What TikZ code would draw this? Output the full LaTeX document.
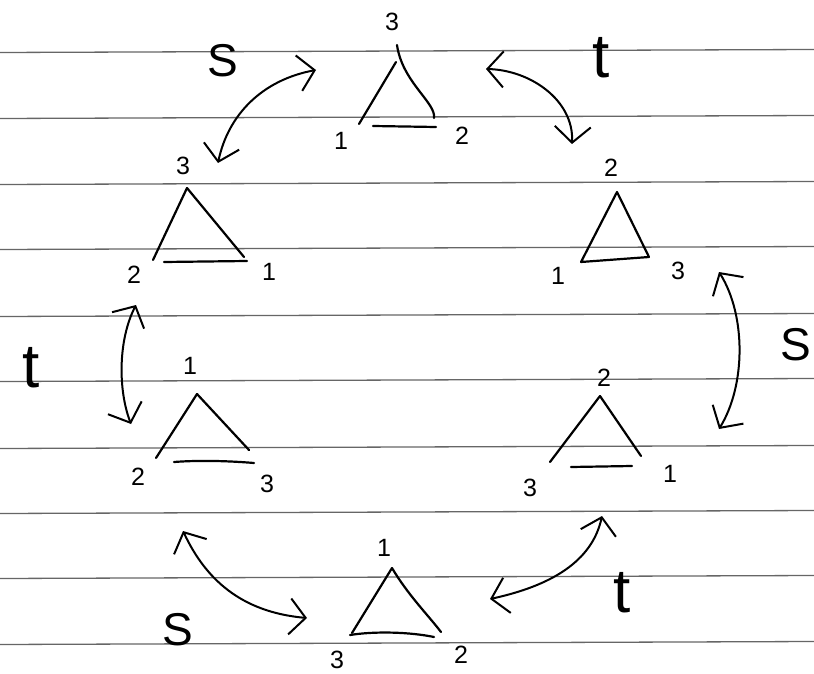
\documentclass[tikz,border=0pt]{standalone}
\usepackage{fontspec}
\setmainfont{Liberation Sans}
\usetikzlibrary{arrows.meta}
\begin{document}
\begin{tikzpicture}[x=1pt,y=-1pt,
  paperline/.style={draw=black!60, line width=1.3pt},
  tri/.style={line width=2.2pt, line cap=round, line join=round},
  barb/.tip={Straight Barb[length=16pt,width=36pt,line width=2pt]},
  swap/.style={line width=2pt, line cap=round, barb-barb},
  num/.style={font=\fontsize{25}{25}\selectfont, inner sep=0pt},
  sletter/.style={font=\fontsize{46}{46}\selectfont, inner sep=0pt},
  tletter/.style={font=\fontsize{62}{62}\selectfont, inner sep=0pt}]
\useasboundingbox[fill=white] (0,0) rectangle (814,674);
% lined paper
\foreach \yy in {51,117,183,248,315,380,447,512,577,643}
  \draw[paperline] (0,\yy+1.5) -- (814,\yy-1.5);

% triangle 1 (top)
\coordinate (t1a) at (396,62); \coordinate (t1t) at (397,45);
\coordinate (t1l) at (359,124); \coordinate (t1r) at (434,115);
\coordinate (t1bl) at (373,126); \coordinate (t1br) at (436,127);
\draw[tri] (t1a) -- (t1l);
\draw[tri] (t1t) .. controls (402,80) and (432,100) .. (t1r) -- (434,118);
\draw[tri] (t1bl) -- (t1br);
\node[num] (t1n3) at (392,22) {3};
\node[num] (t1n1) at (341,141) {1};
\node[num] (t1n2) at (462,136) {2};

% triangle 2 (upper left)
\coordinate (t2a) at (187,188); \coordinate (t2l) at (153,260);
\coordinate (t2r) at (244,257); \coordinate (t2bl) at (164,262);
\coordinate (t2br) at (247,261);
\draw[tri] (t2a) -- (t2l);
\draw[tri] (t2a) -- (t2r);
\draw[tri] (t2bl) -- (t2br);
\node[num] (t2n3) at (183,166) {3};
\node[num] (t2n2) at (134,275) {2};
\node[num] (t2n1) at (269,272) {1};

% triangle 3 (upper right)
\coordinate (t3a) at (617,192); \coordinate (t3l) at (581,262);
\coordinate (t3r) at (649,257);
\draw[tri] (t3a) -- (t3l) -- (t3r) -- cycle;
\node[num] (t3n2) at (611,168) {2};
\node[num] (t3n1) at (558,276) {1};
\node[num] (t3n3) at (678,271) {3};

% triangle 4 (lower left)
\coordinate (t4a) at (197,394); \coordinate (t4l) at (156,458);
\coordinate (t4r) at (249,450); \coordinate (t4bl) at (174,462);
\coordinate (t4br) at (254,463);
\draw[tri] (t4a) -- (t4l);
\draw[tri] (t4a) -- (t4r);
\draw[tri] (t4bl) .. controls (200,460) and (230,461) .. (t4br);
\node[num] (t4n1) at (190,366) {1};
\node[num] (t4n2) at (138,477) {2};
\node[num] (t4n3) at (267,484) {3};

% triangle 5 (lower right)
\coordinate (t5a) at (600,396); \coordinate (t5l) at (550,462);
\coordinate (t5r) at (641,456); \coordinate (t5bl) at (571,467);
\coordinate (t5br) at (632,466);
\draw[tri] (t5a) -- (t5l);
\draw[tri] (t5a) -- (t5r);
\draw[tri] (t5bl) -- (t5br);
\node[num] (t5n2) at (604,378) {2};
\node[num] (t5n3) at (530,488) {3};
\node[num] (t5n1) at (670,474) {1};

% triangle 6 (bottom)
\coordinate (t6a) at (392,568); \coordinate (t6l) at (352,633);
\coordinate (t6r) at (441,632); \coordinate (t6bl) at (350,635);
\coordinate (t6br) at (434,637);
\draw[tri] (t6a) -- (t6l);
\draw[tri] (t6a) .. controls (408,595) and (428,615) .. (t6r);
\draw[tri] (t6bl) .. controls (375,631) and (410,632) .. (t6br);
\node[num] (t6n1) at (384,548) {1};
\node[num] (t6n3) at (337,660) {3};
\node[num] (t6n2) at (461,655) {2};

% swap arrows
\coordinate (sAa) at (218,163); \coordinate (sAb) at (316,70);
\draw[swap] (sAa) .. controls (228,115) and (262,80) .. (sAb);
\node[sletter] (sA) at (223,61) {S};

\coordinate (tAa) at (486,69); \coordinate (tAb) at (572,144);
\draw[swap] (tAa) .. controls (530,70) and (574,100) .. (tAb);
\node[tletter] (tA) at (601,58) {t};

\coordinate (tBa) at (136,305); \coordinate (tBb) at (131,424);
\draw[swap] (tBa) .. controls (118,340) and (118,390) .. (tBb);
\node[tletter] (tB) at (31,368) {t};

\coordinate (sBa) at (719,272); \coordinate (sBb) at (719,429);
\draw[swap] (sBa) .. controls (746,315) and (746,385) .. (sBb);
\node[sletter] (sB) at (796,345) {S};

\coordinate (sCa) at (183,531); \coordinate (sCb) at (307,618);
\draw[swap] (sCa) .. controls (205,578) and (240,612) .. (sCb);
\node[sletter] (sC) at (178,630) {S};

\coordinate (tCa) at (602,516); \coordinate (tCb) at (490,599);
\draw[swap] (tCa) .. controls (592,562) and (550,586) .. (tCb);
\node[tletter] (tC) at (622,593) {t};
\end{tikzpicture}
\end{document}
